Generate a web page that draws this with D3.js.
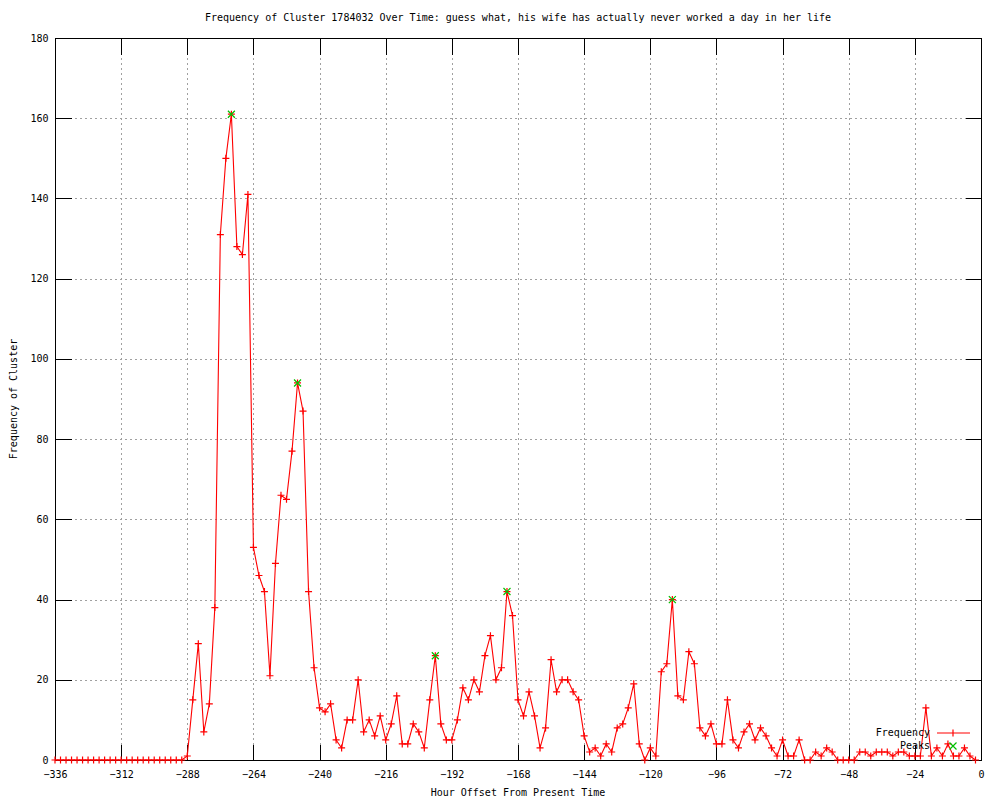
<!DOCTYPE html>
<html>
<head>
<meta charset="utf-8">
<script src="https://d3js.org/d3.v7.min.js"></script>
<title>Frequency of Cluster</title>
<style>
	body { margin: 0; background: #fff; }
	text { font-family: "DejaVu Sans Mono", monospace; font-size: 10px; fill: #000; }
</style>
</head>
<body>
<svg id="chart" width="1000" height="800"></svg>
<script>
// hours are every 2h from -336 to -2
var hours = d3.range(-336, 0, 2);
var freq = [
	0,0,0,0,0,0,0,0,0,0,0,0,0,0,0,0,0,0,0,0,0,0,0,0,
	1,15,29,7,14,38,131,150,161,128,126,141,53,46,42,21,49,66,65,77,94,87,42,23,
	13,12,14,5,3,10,10,20,7,10,6,11,5,9,16,4,4,9,7,3,15,26,9,5,
	5,10,18,15,20,17,26,31,20,23,42,36,15,11,17,11,3,8,25,17,20,20,17,15,
	6,2,3,1,4,2,8,9,13,19,4,0,3,1,22,24,40,16,15,27,24,8,6,9,
	4,4,15,5,3,7,9,5,8,6,3,1,5,1,1,5,0,0,2,1,3,2,0,0,
	0,0,2,2,1,2,2,2,1,2,2,1,1,1,13,1,3,1,4,1,1,3,1,0
];
var peakHours = [-272, -248, -198, -172, -112];
var peakValues = [161, 94, 26, 42, 40];

var xTicks = d3.range(-336, 1, 24);
var yTicks = d3.range(0, 181, 20);

var title = "Frequency of Cluster 1784032 Over Time: guess what, his wife has actually never worked a day in her life";

var svg = d3.select("#chart");
var mLeft = 55, mRight = 981, mTop = 38, mBottom = 760;

var x = d3.scaleLinear().domain([-336, 0]).range([mLeft, mRight]);
var y = d3.scaleLinear().domain([0, 180]).range([mBottom, mTop]);

var data = hours.map(function(h, i) { return {h: h, v: freq[i]}; });
var peaks = peakHours.map(function(h, i) { return {h: h, v: peakValues[i]}; });

// grid
var grid = svg.append("g").attr("stroke", "#a0a0a0").attr("stroke-dasharray", "2,3")
	.attr("shape-rendering", "crispEdges");
grid.selectAll("line.gx").data(xTicks.slice(1, -1)).enter().append("line")
	.attr("x1", d => Math.round(x(d)) + 0.5).attr("x2", d => Math.round(x(d)) + 0.5)
	.attr("y1", mTop).attr("y2", mBottom);
grid.selectAll("line.gy").data(yTicks.slice(1, -1)).enter().append("line")
	.attr("y1", d => Math.round(y(d)) + 0.5).attr("y2", d => Math.round(y(d)) + 0.5)
	.attr("x1", mLeft).attr("x2", mRight);

// axes (inward ticks, mirrored)
var tl = 16;
var xb = svg.append("g").attr("transform", "translate(0," + (mBottom + 0.5) + ")")
	.call(d3.axisBottom(x).tickValues(xTicks).tickSizeInner(-tl).tickSizeOuter(0));
var xt = svg.append("g").attr("transform", "translate(0," + (mTop + 0.5) + ")")
	.call(d3.axisTop(x).tickValues(xTicks).tickSizeInner(-tl).tickSizeOuter(0).tickFormat(""));
var yl = svg.append("g").attr("transform", "translate(" + (mLeft + 0.5) + ",0)")
	.call(d3.axisLeft(y).tickValues(yTicks).tickSizeInner(-tl).tickSizeOuter(0));
var yr = svg.append("g").attr("transform", "translate(" + (mRight + 0.5) + ",0)")
	.call(d3.axisRight(y).tickValues(yTicks).tickSizeInner(-tl).tickSizeOuter(0).tickFormat(""));

[xb, xt, yl, yr].forEach(function(g) {
	g.attr("font-family", null).attr("font-size", null).attr("shape-rendering", "crispEdges");
	g.select(".domain").remove();
	g.selectAll(".tick line").attr("stroke", "#000");
	g.selectAll(".tick text").attr("fill", "#000");
});
xb.selectAll(".tick text").attr("dy", null).attr("y", 14).attr("dominant-baseline", "middle");
yl.selectAll(".tick text").attr("dy", null).attr("x", -7).attr("dominant-baseline", "middle");

// frame
svg.append("rect").attr("x", mLeft + 0.5).attr("y", mTop + 0.5)
	.attr("width", mRight - mLeft).attr("height", mBottom - mTop)
	.attr("fill", "none").attr("stroke", "#000").attr("shape-rendering", "crispEdges");

// data line
var line = d3.line().x(d => x(d.h)).y(d => y(d.v));
svg.append("path").datum(data).attr("d", line)
	.attr("fill", "none").attr("stroke", "#ff0000").attr("stroke-width", 1.1);

var ps = 3.5;
function plus(sel, color) {
	sel.append("path")
		.attr("d", d => "M" + (x(d.h) - ps) + "," + y(d.v) + "h" + (2 * ps) +
			"M" + x(d.h) + "," + (y(d.v) - ps) + "v" + (2 * ps))
		.attr("stroke", color).attr("stroke-width", 1.2).attr("fill", "none");
}
function cross(sel, color) {
	sel.append("path")
		.attr("d", d => "M" + (x(d.h) - ps) + "," + (y(d.v) - ps) + "l" + (2 * ps) + "," + (2 * ps) +
			"M" + (x(d.h) - ps) + "," + (y(d.v) + ps) + "l" + (2 * ps) + "," + (-2 * ps))
		.attr("stroke", color).attr("stroke-width", 1.2).attr("fill", "none");
}
plus(svg.append("g").selectAll("g").data(data).enter().append("g"), "#ff0000");
cross(svg.append("g").selectAll("g").data(peaks).enter().append("g"), "#00c000");

// legend
var lg = svg.append("g");
lg.append("text").attr("x", 930).attr("y", 733).attr("text-anchor", "end")
	.attr("dominant-baseline", "middle").text("Frequency");
lg.append("line").attr("x1", 937).attr("x2", 970).attr("y1", 733).attr("y2", 733)
	.attr("stroke", "#ff0000").attr("stroke-width", 1.1);
lg.append("path").attr("d", "M953," + (733 - ps) + "v" + (2 * ps))
	.attr("stroke", "#ff0000").attr("stroke-width", 1.2);
lg.append("text").attr("x", 930).attr("y", 746).attr("text-anchor", "end")
	.attr("dominant-baseline", "middle").text("Peaks");
lg.append("path")
	.attr("d", "M" + (953 - ps) + "," + (746 - ps) + "l" + (2 * ps) + "," + (2 * ps) +
		"M" + (953 - ps) + "," + (746 + ps) + "l" + (2 * ps) + "," + (-2 * ps))
	.attr("stroke", "#00c000").attr("stroke-width", 1.2).attr("fill", "none");

// titles
svg.append("text").attr("x", 518).attr("y", 18).attr("text-anchor", "middle")
	.attr("dominant-baseline", "middle").text(title);
svg.append("text").attr("x", 518).attr("y", 793).attr("text-anchor", "middle")
	.attr("dominant-baseline", "middle").text("Hour Offset From Present Time");
svg.append("text").attr("transform", "translate(14," + ((mTop + mBottom) / 2) + ") rotate(-90)")
	.attr("text-anchor", "middle").attr("dominant-baseline", "middle").text("Frequency of Cluster");
</script>
</body>
</html>
